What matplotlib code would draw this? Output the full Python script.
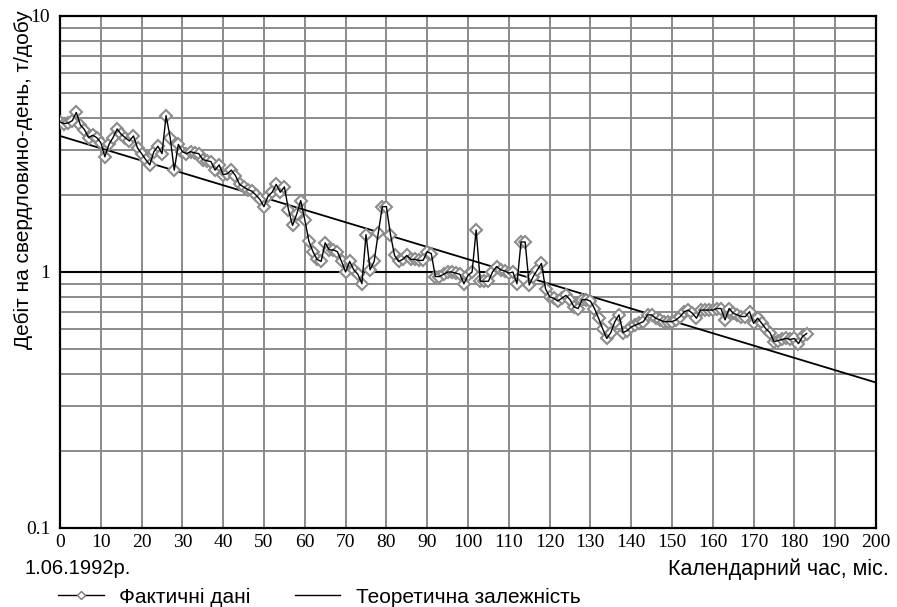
import numpy as np
import matplotlib
matplotlib.use("Agg")
from matplotlib import pyplot as plt
from matplotlib.lines import Line2D

#Monthly well rate, starting 1.06.1992
months = list(range(184))
rate = [3.85, 3.80, 3.82, 3.90, 4.20, 3.75, 3.60, 3.35, 3.42, 3.35,
        3.20, 2.82, 3.15, 3.35, 3.62, 3.45, 3.35, 3.25, 3.40, 3.05,
        2.90, 2.75, 2.62, 2.95, 3.10, 2.90, 4.08, 3.35, 2.50, 3.15,
        2.95, 2.90, 2.95, 2.92, 2.90, 2.75, 2.72, 2.70, 2.50, 2.62,
        2.40, 2.42, 2.50, 2.38, 2.20, 2.15, 2.10, 2.07, 2.00, 1.92,
        1.80, 1.98, 2.05, 2.20, 2.05, 2.15, 1.75, 1.52, 1.68, 1.90,
        1.60, 1.32, 1.20, 1.12, 1.10, 1.30, 1.22, 1.22, 1.20, 1.10,
        1.00, 1.10, 1.02, 0.98, 0.90, 1.40, 1.02, 1.10, 1.42, 1.80,
        1.80, 1.40, 1.16, 1.10, 1.12, 1.16, 1.12, 1.12, 1.11, 1.11,
        1.20, 1.18, 0.96, 0.96, 0.98, 1.00, 1.00, 0.99, 0.98, 0.90,
        0.97, 1.00, 1.46, 0.92, 0.92, 0.92, 1.00, 1.05, 1.02, 1.01,
        0.99, 1.00, 0.90, 1.31, 1.31, 0.89, 0.96, 1.02, 1.08, 0.86,
        0.80, 0.79, 0.77, 0.79, 0.81, 0.78, 0.73, 0.72, 0.78, 0.78,
        0.77, 0.72, 0.66, 0.60, 0.55, 0.58, 0.64, 0.68, 0.58, 0.59,
        0.61, 0.62, 0.63, 0.64, 0.68, 0.68, 0.66, 0.65, 0.64, 0.64,
        0.64, 0.65, 0.67, 0.70, 0.71, 0.69, 0.66, 0.71, 0.71, 0.71,
        0.71, 0.72, 0.72, 0.65, 0.72, 0.69, 0.68, 0.67, 0.67, 0.70,
        0.63, 0.66, 0.63, 0.60, 0.58, 0.535, 0.54, 0.545, 0.55, 0.545,
        0.55, 0.525, 0.56, 0.575]

#Theoretical (exponential) dependence, end points
theory_t = [0, 200]
theory_q = [3.40, 0.37]

x_ticks = list(range(0, 201, 10))
y_ticks = [0.1, 1, 10]
y_tick_labels = ["0.1", "1", "10"]

fig = plt.figure(figsize=(8.97, 6.07), dpi=100)
ax = fig.add_axes([60/897, 1 - 528/607, 816/897, 512/607])

ax.set_yscale("log")
ax.set_xlim(0, 200)
ax.set_ylim(0.1, 10)

#Grid
grid_col = "#8a8a8a"
for xv in x_ticks[1:-1]:
    ax.axvline(xv, color=grid_col, lw=1.4, zorder=1)
for dec in [0.1, 1]:
    for k in range(2, 10):
        ax.axhline(dec*k, color=grid_col, lw=1.4, zorder=1)
ax.axhline(1, color="black", lw=1.5, zorder=2)

#Data
ax.plot(theory_t, theory_q, color="black", lw=1.3, zorder=3)
ax.plot(months, rate, ls="none", marker="D", ms=5.8, mfc="white", mec="#8c8c8c", mew=1.5, zorder=4)
ax.plot(months, rate, color="black", lw=1.0, zorder=5)

for s in ax.spines.values():
    s.set_linewidth(1.6)
    s.set_color("black")

ax.set_xticks(x_ticks)
ax.set_xticklabels([str(v) for v in x_ticks], family="Liberation Serif", fontsize=14)
ax.set_yticks(y_ticks)
ax.set_yticklabels(y_tick_labels, family="Liberation Serif", fontsize=14)
ax.yaxis.set_minor_locator(matplotlib.ticker.NullLocator())
ax.tick_params(axis="x", length=0, pad=4)
ax.tick_params(axis="y", length=0, pad=7)

sans = "Liberation Sans"
fig.text(23/897, 1 - 180/607, "Дебіт на свердловино-день, т/добу", rotation=90,
         ha="center", va="center", family=sans, fontsize=15)
fig.text(24/897, 1 - 569/607, "1.06.1992р.", ha="left", va="center", family=sans, fontsize=14.5)
fig.text(889/897, 1 - 569/607, "Календарний час, міс.", ha="right", va="center", family=sans, fontsize=15.5)

handles = [Line2D([], [], color="black", lw=1.0, marker="D", ms=4, mfc="white", mec="#777777"),
           Line2D([], [], color="black", lw=1.0)]
fig.legend(handles, ["Фактичні дані", "Теоретична залежність"], loc="center left",
           bbox_to_anchor=(58/897, 1 - 597/607), ncol=2, frameon=False,
           prop={"family": sans, "size": 15}, handlelength=2.2, handletextpad=0.75,
           columnspacing=2.1, borderpad=0, borderaxespad=0)

plt.savefig("out.png", dpi=100)
